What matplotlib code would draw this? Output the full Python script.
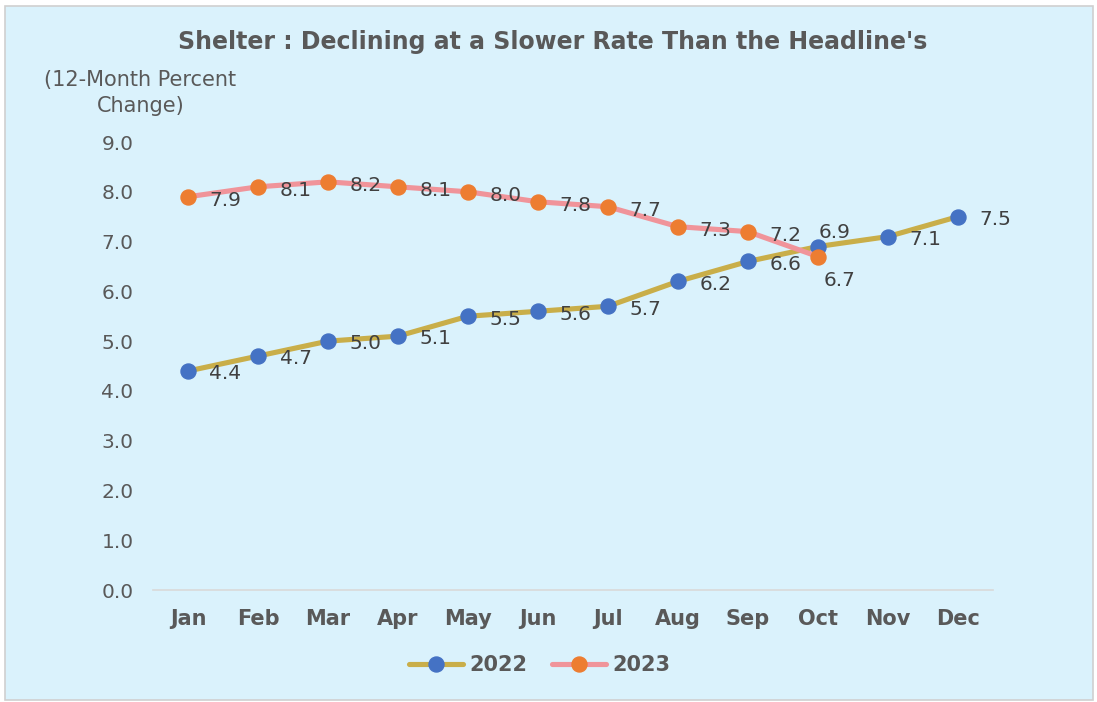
import matplotlib.pyplot as plt
from matplotlib.patches import Rectangle

months = ["Jan", "Feb", "Mar", "Apr", "May", "Jun", "Jul", "Aug", "Sep", "Oct", "Nov", "Dec"]
shelter_2022 = [4.4, 4.7, 5.0, 5.1, 5.5, 5.6, 5.7, 6.2, 6.6, 6.9, 7.1, 7.5]
shelter_2023 = [7.9, 8.1, 8.2, 8.1, 8.0, 7.8, 7.7, 7.3, 7.2, 6.7]

bg = "#DAF2FC"
txt = "#595959"

fig = plt.figure(figsize=(10.97, 7.02), dpi=100, facecolor="white")
fig.patches.append(Rectangle((0.005, 0.003), 0.991, 0.989, transform=fig.transFigure,
                             facecolor=bg, edgecolor="#D0D0D0", linewidth=1.2, zorder=-1))

ax = fig.add_axes([0.1395, 0.1595, 0.7655, 0.6382])
ax.set_facecolor("none")

x = list(range(len(months)))
ax.plot(x, shelter_2022, color="#C9AE49", lw=3.7, marker="o", ms=10.8,
        mfc="#4472C4", mec="#4472C4", label="2022", solid_capstyle="round", zorder=3)
ax.plot(x[:len(shelter_2023)], shelter_2023, color="#F0949A", lw=3.7, marker="o", ms=10.8,
        mfc="#ED7D31", mec="#ED7D31", label="2023", solid_capstyle="round", zorder=4)

# data label offsets in points; default is to the right of the marker
off22 = {9: (12, 10)}
off23 = {9: (16, -17)}
for i, v in enumerate(shelter_2022):
    dx, dy = off22.get(i, (27, -2))
    ax.annotate(f"{v:.1f}", (i, v), xytext=(dx, dy), textcoords="offset points",
                ha="center", va="center", fontsize=14.5, color="#404040", zorder=5)
for i, v in enumerate(shelter_2023):
    dx, dy = off23.get(i, (27, -2.5))
    ax.annotate(f"{v:.1f}", (i, v), xytext=(dx, dy), textcoords="offset points",
                ha="center", va="center", fontsize=14.5, color="#404040", zorder=5)

ax.set_xlim(-0.5, 11.5)
ax.set_ylim(0, 9)
ax.set_yticks([i * 1.0 for i in range(10)])
ax.set_yticklabels([f"{i:.1f}" for i in range(10)])
ax.set_xticks(x)
ax.set_xticklabels(months, fontweight="bold")
ax.tick_params(axis="y", length=0, pad=14, labelsize=14.5, labelcolor=txt)
ax.tick_params(axis="x", length=0, pad=14, labelsize=15, labelcolor=txt)
for s in ["top", "right", "left"]:
    ax.spines[s].set_visible(False)
ax.spines["bottom"].set_color("#D9D9D9")
ax.spines["bottom"].set_linewidth(1.2)

fig.text(0.504, 0.94, "Shelter : Declining at a Slower Rate Than the Headline's",
         ha="center", va="center", fontsize=17, fontweight="bold", color=txt)
fig.text(0.128, 0.886, "(12-Month Percent", ha="center", va="center", fontsize=15, color=txt)
fig.text(0.128, 0.849, "Change)", ha="center", va="center", fontsize=15, color=txt)

leg = fig.legend(loc="center", bbox_to_anchor=(0.492, 0.053), ncol=2, frameon=False,
                 prop={"weight": "bold", "size": 15}, handlelength=2.6, columnspacing=1.2,
                 handletextpad=0.3)
for t in leg.get_texts():
    t.set_color(txt)

fig.savefig("out.png", dpi=100, facecolor=fig.get_facecolor())
